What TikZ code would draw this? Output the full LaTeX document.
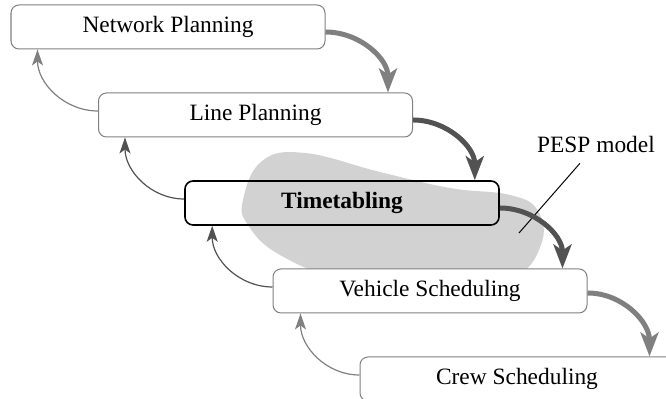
\documentclass[tikz,border=0pt]{standalone}
\usepackage{fontspec}
\setmainfont{Liberation Serif}
\usetikzlibrary{arrows.meta}

\begin{document}
\begin{tikzpicture}[x=0.5pt, y=0.5pt,
    stage/.style = {rectangle, draw=gray, line width=0.5pt, rounded corners=4pt, fill=white,
                    minimum width=157pt, minimum height=22pt},
    focus/.style = {stage, draw=black, line width=0.8pt, fill=none,
                    font=\fontsize{11.7pt}{14pt}\selectfont\bfseries},
    forward/.style = {-{Stealth[length=12pt, width=9pt, inset=3pt]}, line width=2.5pt},
    feedback/.style = {-{Stealth[length=8pt, width=5.5pt, inset=2pt]}, line width=0.6pt},
    font=\fontsize{11.7pt}{14pt}\selectfont]
  \useasboundingbox (0, 0) rectangle (666, 399);

  % PESP region (behind the stages).
  \fill [gray!35] plot [smooth cycle, tension=0.7] coordinates
        {(243, 199) (262, 238) (305, 246) (380, 227) (450, 211) (510, 204) (538, 188)
         (541, 154) (512, 121) (440, 109) (350, 117) (280, 144) (248, 174)};

  % Planning stages.
  \node at (168, 372) [stage, name=NetworkPlanning] {Network Planning};
  \node at (255.5, 284) [stage, name=LinePlanning] {Line Planning};
  \node at (342, 196) [focus, name=Timetabling] {Timetabling};
  \node at (430, 108) [stage, name=VehicleScheduling] {Vehicle Scheduling};
  \node at (517, 20) [stage, name=CrewScheduling] {Crew Scheduling};

  % Label for the PESP region.
  \node at (596, 254) [name=PESPLabel] {PESP model};
  \coordinate (pespPoint) at (519, 166);
  \draw [line width=0.5pt, shorten <=2pt] (PESPLabel) -- (pespPoint);

  % Forward steps.
  \draw [forward, gray] ([yshift=-2.5pt]NetworkPlanning.east)
        to [out=0, in=90]
        ([xshift=-12.5pt]LinePlanning.north east);
  \draw [forward, black!68] ([yshift=-2.5pt]LinePlanning.east)
        to [out=0, in=90]
        ([xshift=-12.5pt]Timetabling.north east);
  \draw [forward, black!68] ([yshift=-2.5pt]Timetabling.east)
        to [out=0, in=90]
        ([xshift=-12.5pt]VehicleScheduling.north east);
  \draw [forward, gray] ([yshift=-1pt]VehicleScheduling.east)
        to [out=0, in=90]
        ([xshift=-12.5pt]CrewScheduling.north east);

  % Feedback steps.
  \draw [feedback, gray] ([yshift=2pt]LinePlanning.west)
        to [out=180, in=270]
        ([xshift=13.5pt]NetworkPlanning.south west);
  \draw [feedback, black!68] ([yshift=2pt]Timetabling.west)
        to [out=180, in=270]
        ([xshift=13.5pt]LinePlanning.south west);
  \draw [feedback, black!68] ([yshift=2pt]VehicleScheduling.west)
        to [out=180, in=270]
        ([xshift=14pt]Timetabling.south west);
  \draw [feedback, gray] ([yshift=2pt]CrewScheduling.west)
        to [out=180, in=270]
        ([xshift=14pt]VehicleScheduling.south west);
\end{tikzpicture}
\end{document}
